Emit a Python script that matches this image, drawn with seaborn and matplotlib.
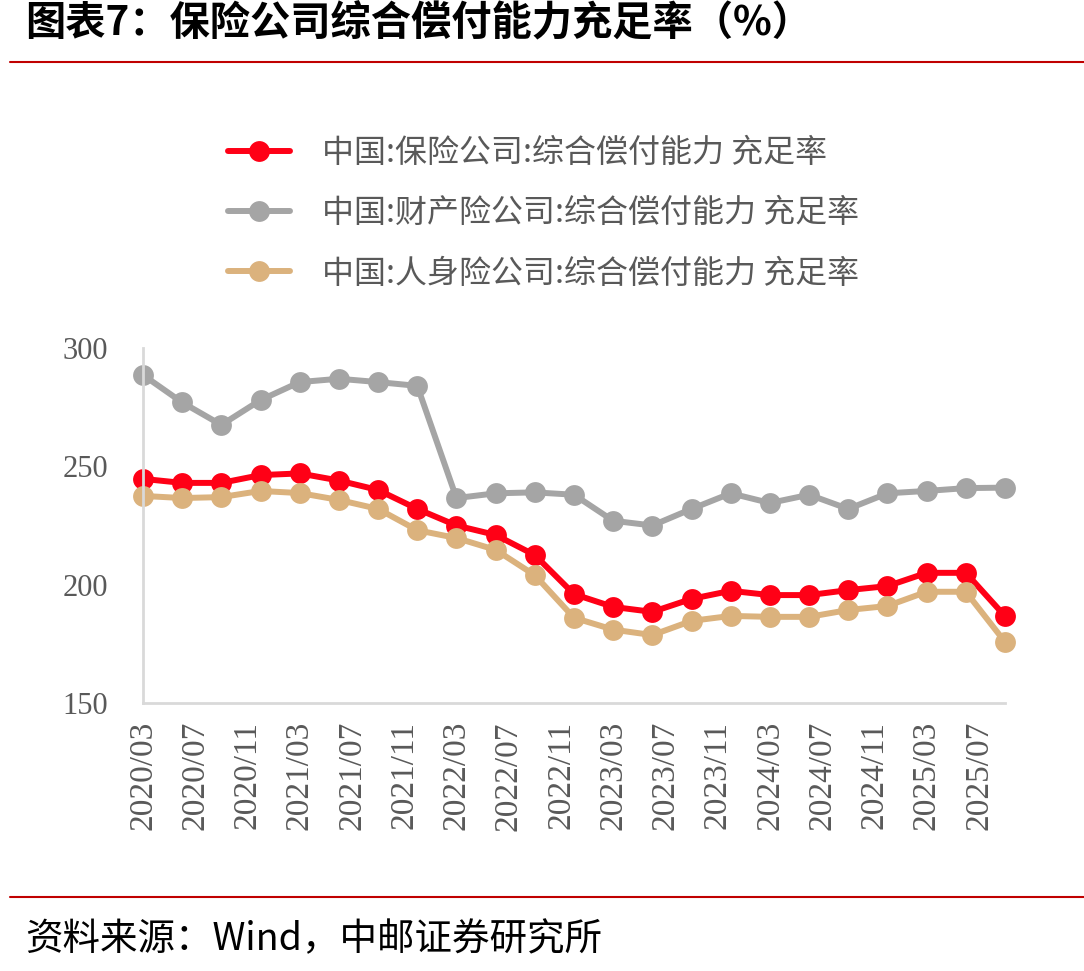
import numpy as np
import pandas as pd
import seaborn as sns
from matplotlib import pyplot as plt
from matplotlib.lines import Line2D

# quarterly solvency ratios (%), 2020/03 .. 2025/09
quarters = ["2020/03", "2020/06", "2020/09", "2020/12", "2021/03", "2021/06", "2021/09", "2021/12",
            "2022/03", "2022/06", "2022/09", "2022/12", "2023/03", "2023/06", "2023/09", "2023/12",
            "2024/03", "2024/06", "2024/09", "2024/12", "2025/03", "2025/06", "2025/09"]
total = [244.7, 243.0, 243.0, 246.3, 247.0, 244.0, 240.0, 232.0, 225.0, 221.0, 212.5, 196.0,
         190.6, 188.5, 194.0, 197.4, 195.6, 195.6, 197.7, 199.4, 205.0, 205.0, 186.7]
property_ins = [288.6, 277.0, 267.5, 278.0, 285.6, 287.0, 285.6, 284.0, 236.6, 238.6, 239.0, 238.0,
                227.0, 225.0, 232.0, 238.6, 234.5, 238.0, 232.0, 238.6, 239.6, 240.8, 241.0]
life_ins = [237.5, 236.6, 237.0, 239.6, 238.7, 235.8, 232.0, 223.0, 219.7, 214.7, 204.0, 186.0,
            181.0, 178.7, 184.7, 186.8, 186.4, 186.4, 189.3, 191.0, 197.0, 197.0, 175.8]

series_names = ["中国:保险公司:综合偿付能力 充足率",
                "中国:财产险公司:综合偿付能力 充足率",
                "中国:人身险公司:综合偿付能力 充足率"]
colors = ["#ff0016", "#a5a5a5", "#dbb27d"]

title = "图表7：保险公司综合偿付能力充足率（%）"
source = "资料来源：Wind，中邮证券研究所"

# month index since 2020/03
def month_idx(s):
    y, m = s.split("/")
    return (int(y) - 2020) * 12 + int(m) - 3

months = [month_idx(q) for q in quarters]
tick_months = list(range(0, 65, 4))
tick_labels = ["%d/%02d" % (2020 + (t + 2) // 12, (t + 2) % 12 + 1) for t in tick_months]

df = pd.DataFrame({"month": months * 3,
                   "value": total + property_ins + life_ins,
                   "series": sum([[n] * len(months) for n in series_names], [])})

sns.set_style("white")
plt.rcParams['font.family'] = ['Liberation Serif', 'Noto Sans CJK SC', 'DejaVu Sans']
cjk = ['Noto Sans CJK SC', 'DejaVu Sans']

fig = plt.figure(figsize=(10.84, 9.71), dpi=100)
ax = fig.add_axes([143 / 1084, 1 - 703 / 971, (1005 - 143) / 1084, (703 - 348) / 971])

for name, c in zip(series_names, colors):
    sub = df[df["series"] == name]
    sns.lineplot(data=sub, x="month", y="value", ax=ax, color=c, marker="o",
                 markersize=15, markeredgewidth=0, linewidth=4.3, label=name, clip_on=False)

ax.set_xlim(0, 66)
ax.set_ylim(150, 300)
ax.set_yticks([150, 200, 250, 300])
ax.set_xticks(tick_months)
ax.set_xticklabels(tick_labels, rotation=90)
ax.set_xlabel("")
ax.set_ylabel("")
sns.despine(ax=ax)
for sp in ["left", "bottom"]:
    ax.spines[sp].set_color("#d9d9d9")
    ax.spines[sp].set_linewidth(2)
ax.tick_params(axis="both", colors="#d9d9d9", width=2, length=7, labelcolor="#595959")
ax.tick_params(axis="y", pad=18, labelsize=22)
ax.tick_params(axis="x", pad=6, labelsize=24)

leg = ax.legend(loc="upper left", bbox_to_anchor=(215 / 1084, 1 - 124 / 971),
                bbox_transform=fig.transFigure, frameon=False, prop={'family': cjk, 'size': 23},
                handlelength=1.95, handletextpad=1.0, labelspacing=0.89, borderaxespad=0)
for t in leg.get_texts():
    t.set_color("#595959")

fig.text(25 / 1084, 1 - 24 / 971, title, fontsize=29, fontweight="bold", family=cjk,
         va="center", ha="left", color="black")
fig.text(25 / 1084, 1 - 940 / 971, source, fontsize=27, family=cjk,
         va="center", ha="left", color="black")
fig.add_artist(Line2D([10 / 1084, 1], [1 - 62 / 971] * 2, color="#c00000", lw=1.5))
fig.add_artist(Line2D([10 / 1084, 1], [1 - 897 / 971] * 2, color="#c00000", lw=1.5))

fig.savefig("out.png", dpi=100)
